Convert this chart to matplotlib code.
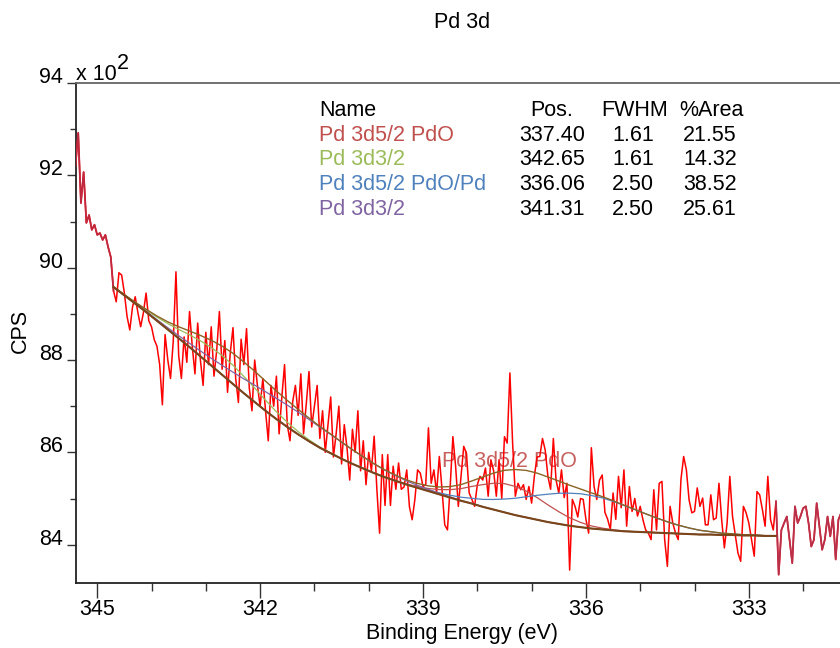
import numpy as np
import matplotlib
matplotlib.use("Agg")
import matplotlib.pyplot as plt
from matplotlib.ticker import FixedLocator, FuncFormatter

plt.rcParams['font.family'] = ['Liberation Sans', 'DejaVu Sans']

# ---------------- data ----------------
# raw spectrum, binding energy grid 345.40 -> 331.30 eV (0.05 eV step)
be_start = 345.40
be_step = 0.05
cps = [
    # 345.40 - 344.75
    9220, 9292, 9140, 9207, 9097, 9114, 9082, 9093, 9071, 9075, 9060, 9071, 9045, 9023,
    # 344.70 - 343.95
    8950, 8926, 8989, 8984, 8945, 8894, 8865, 8915, 8937, 8902, 8872, 8902, 8945, 8885, 8872, 8844,
    # 343.90 - 343.00
    8830, 8790, 8703, 8855, 8800, 8760, 8840, 8991, 8810, 8760, 8850, 8795, 8905, 8830, 8770, 8880,
    8800, 8745, 8860,
    # 342.95 - 342.00
    8790, 8872, 8765, 8820, 8905, 8780, 8842, 8730, 8815, 8870, 8760, 8708, 8845, 8790, 8868, 8740,
    8690, 8800, 8745, 8700,
    # 341.95 - 341.00
    8760, 8690, 8625, 8745, 8700, 8765, 8640, 8720, 8790, 8660, 8625, 8710, 8745, 8680, 8770, 8640,
    8705, 8775, 8655, 8700,
    # 340.95 - 340.00
    8745, 8630, 8690, 8600, 8660, 8720, 8590, 8640, 8700, 8575, 8660, 8610, 8540, 8650, 8600, 8690,
    8560, 8625, 8530, 8600,
    # 339.95 - 339.85
    8560, 8635, 8520,
    # 339.80 - 339.05
    8425, 8595, 8485, 8595, 8485, 8570, 8520, 8577, 8520, 8525, 8562, 8482, 8454, 8498, 8562, 8555,
    # 339.00 - 338.05
    8526, 8530, 8653, 8533, 8562, 8512, 8591, 8519, 8443, 8432, 8526, 8634, 8570, 8483, 8548, 8613,
    8598, 8512, 8498, 8483,
    # 338.00 - 337.05
    8530, 8548, 8540, 8566, 8505, 8584, 8560, 8505, 8584, 8500, 8634, 8620, 8772, 8620, 8505, 8533,
    8519, 8530, 8498, 8526,
    # 337.00 - 336.05
    8490, 8548, 8590, 8591, 8630, 8605, 8548, 8520, 8630, 8540, 8512, 8562, 8502, 8533, 8345, 8498,
    8483, 8460, 8500, 8498,
    # 336.00 - 335.05
    8455, 8425, 8610, 8526, 8498, 8540, 8551, 8470, 8455, 8433, 8512, 8455, 8548, 8480, 8562, 8440,
    8526, 8472, 8500, 8462,
    # 335.00 - 334.05
    8483, 8454, 8432, 8425, 8411, 8519, 8432, 8533, 8537, 8411, 8353, 8483, 8447, 8425, 8411, 8541,
    8591, 8562, 8497, 8469,
    # 334.00 - 333.05
    8472, 8523, 8483, 8501, 8443, 8443, 8508, 8454, 8458, 8533, 8454, 8393, 8447, 8548, 8461, 8422,
    8382, 8364, 8483, 8469,
    # 333.00 - 332.05
    8447, 8411, 8375, 8515, 8508, 8476, 8440, 8548, 8454, 8432, 8494, 8335, 8432, 8447, 8461, 8411,
    8360, 8483, 8447, 8461,
    # 332.00 - 331.30
    8479, 8483, 8447, 8396, 8411, 8490, 8440, 8389, 8411, 8461, 8418, 8461, 8368, 8454, 8469,
]

# Shirley-type background over the fitted region, 344.70 -> 332.50 eV (0.2 eV step)
bg_start = 344.70
bg_step = 0.20
background = [
    8958, 8940, 8922, 8904, 8885, 8866, 8847, 8828, 8808, 8788,
    8768, 8748, 8728, 8709, 8690, 8672, 8655, 8639, 8624, 8610,
    8598, 8586, 8575, 8565, 8555, 8546, 8538, 8530, 8523, 8516,
    8509, 8502, 8495, 8489, 8482, 8476, 8470, 8464, 8459, 8454,
    8449, 8445, 8441, 8438, 8435, 8433, 8431, 8429, 8428, 8427,
    8426, 8425, 8424, 8423, 8422, 8422, 8421, 8421, 8420, 8420,
    8419, 8419,
]

# peak table
names = ["Pd 3d5/2 PdO", "Pd 3d3/2", "Pd 3d5/2 PdO/Pd", "Pd 3d3/2"]
positions = [337.40, 342.65, 336.06, 341.31]
fwhms = [1.61, 1.61, 2.50, 2.50]
area_pct = [21.55, 14.32, 38.52, 25.61]
total_area = 500.0  # CPS*eV (read from the component heights)
comp_colors = ["#c0504d", "#9bbb59", "#4f81bd", "#8064a2"]

x_major = [345, 342, 339, 336, 333]
y_major = [8400, 8600, 8800, 9000, 9200, 9400]

# ---------------- figure ----------------
W, H = 840, 648
fig = plt.figure(figsize=(W / 100, H / 100), dpi=100)

ax_left, ax_right, ax_top, ax_bot = 75.5, 848.0, 83.0, 583.0
ax = fig.add_axes([ax_left / W, 1 - ax_bot / H, (ax_right - ax_left) / W, (ax_bot - ax_top) / H])

be = np.round(be_start - be_step * np.arange(len(cps)), 2)
cps_arr = np.array(cps, dtype=float)
fit_be = np.round(bg_start - bg_step * np.arange(len(background)), 2)
bg = np.array(background, dtype=float)

# components on background
comps = []
for pos, fw, pct in zip(positions, fwhms, area_pct):
    amp = total_area * pct / 100.0 / (fw * 1.0645)
    comps.append(amp * np.exp(-4 * np.log(2) * ((fit_be - pos) / fw) ** 2))
envelope = bg + np.sum(comps, axis=0)

# annotation (behind lines)
ax.text(337.40, 8580, "Pd 3d5/2 PdO", color="#c0504d", fontsize=15.5,
        ha="center", va="center", zorder=1, alpha=0.9)

# raw data
ax.plot(be, cps_arr, color="#ff0000", lw=1.1, zorder=3)
outside_l = be >= bg_start - 1e-6
outside_r = be <= fit_be[-1] + 1e-6
ax.plot(be[outside_l], cps_arr[outside_l], color="#c0283e", lw=1.3, zorder=4)
ax.plot(be[outside_r], cps_arr[outside_r], color="#b8304a", lw=1.3, zorder=4)

for c, col in zip(comps, comp_colors):
    ax.plot(fit_be, bg + c, color=col, lw=0.9, zorder=5)
ax.plot(fit_be, envelope, color="#8a6424", lw=1.0, zorder=6)
ax.plot(fit_be, bg, color="#7a451b", lw=1.5, zorder=6)

ax.set_xlim(345.40, 345.40 - (ax_right - ax_left) / 54.3)
ax.set_ylim(8317, 9400)

ax.xaxis.set_major_locator(FixedLocator(x_major))
ax.xaxis.set_minor_locator(FixedLocator(list(range(332, 346))))
ax.yaxis.set_major_locator(FixedLocator(y_major))
ax.yaxis.set_minor_locator(FixedLocator(list(range(8300, 9400, 200))))
ax.xaxis.set_major_formatter(FuncFormatter(lambda v, p: f"{v:.0f}"))
ax.yaxis.set_major_formatter(FuncFormatter(lambda v, p: f"{v / 100:.0f}"))

ax.tick_params(axis="x", which="major", direction="out", length=10.5, width=1.0, pad=0.8,
               labelsize=15.5, color="#333333")
ax.tick_params(axis="x", which="minor", direction="out", length=5.8, width=1.0, color="#333333")
ax.tick_params(axis="y", which="major", direction="out", length=6.5, width=1.0, pad=2.8,
               labelsize=15.5, color="#333333")
ax.tick_params(axis="y", which="minor", direction="out", length=4.3, width=1.0, color="#333333")
for lab in ax.get_yticklabels():
    lab.set_verticalalignment("baseline")

for s in ["left", "bottom", "right"]:
    ax.spines[s].set_linewidth(1.3)
    ax.spines[s].set_color("#222222")
ax.spines["top"].set_linewidth(1.3)
ax.spines["top"].set_color("#666666")

# texts
fs = 15.5
fig.text(462 / W, 1 - 22 / H, "Pd 3d", ha="center", va="center", fontsize=fs)
fig.text(462 / W, 1 - 634 / H, "Binding Energy (eV)", ha="center", va="center", fontsize=fs)
fig.text(20 / W, 1 - 331 / H, "CPS", ha="center", va="center", rotation=90, fontsize=fs)
fig.text(76 / W, 1 - 80 / H, "x 10", ha="left", va="baseline", fontsize=fs)
fig.text(116.5 / W, 1 - 69 / H, "2", ha="left", va="baseline", fontsize=fs)

# peak table
row_base = [116, 140.7, 165.4, 190.1, 214.8]
fig.text(319 / W, 1 - row_base[0] / H, "Name", ha="left", va="baseline", fontsize=fs)
fig.text(552 / W, 1 - row_base[0] / H, "Pos.", ha="center", va="baseline", fontsize=fs)
fig.text(635 / W, 1 - row_base[0] / H, "FWHM", ha="center", va="baseline", fontsize=fs)
fig.text(711 / W, 1 - row_base[0] / H, "%Area", ha="center", va="baseline", fontsize=fs)
for i, (nm, pos, fw, pct, col) in enumerate(zip(names, positions, fwhms, area_pct, comp_colors)):
    yb = 1 - row_base[i + 1] / H
    fig.text(319 / W, yb, nm, ha="left", va="baseline", fontsize=fs, color=col)
    fig.text(552 / W, yb, f"{pos:.2f}", ha="center", va="baseline", fontsize=fs)
    fig.text(633 / W, yb, f"{fw:.2f}", ha="center", va="baseline", fontsize=fs)
    fig.text(710 / W, yb, f"{pct:.2f}", ha="center", va="baseline", fontsize=fs)

fig.savefig("out.png", dpi=100)
